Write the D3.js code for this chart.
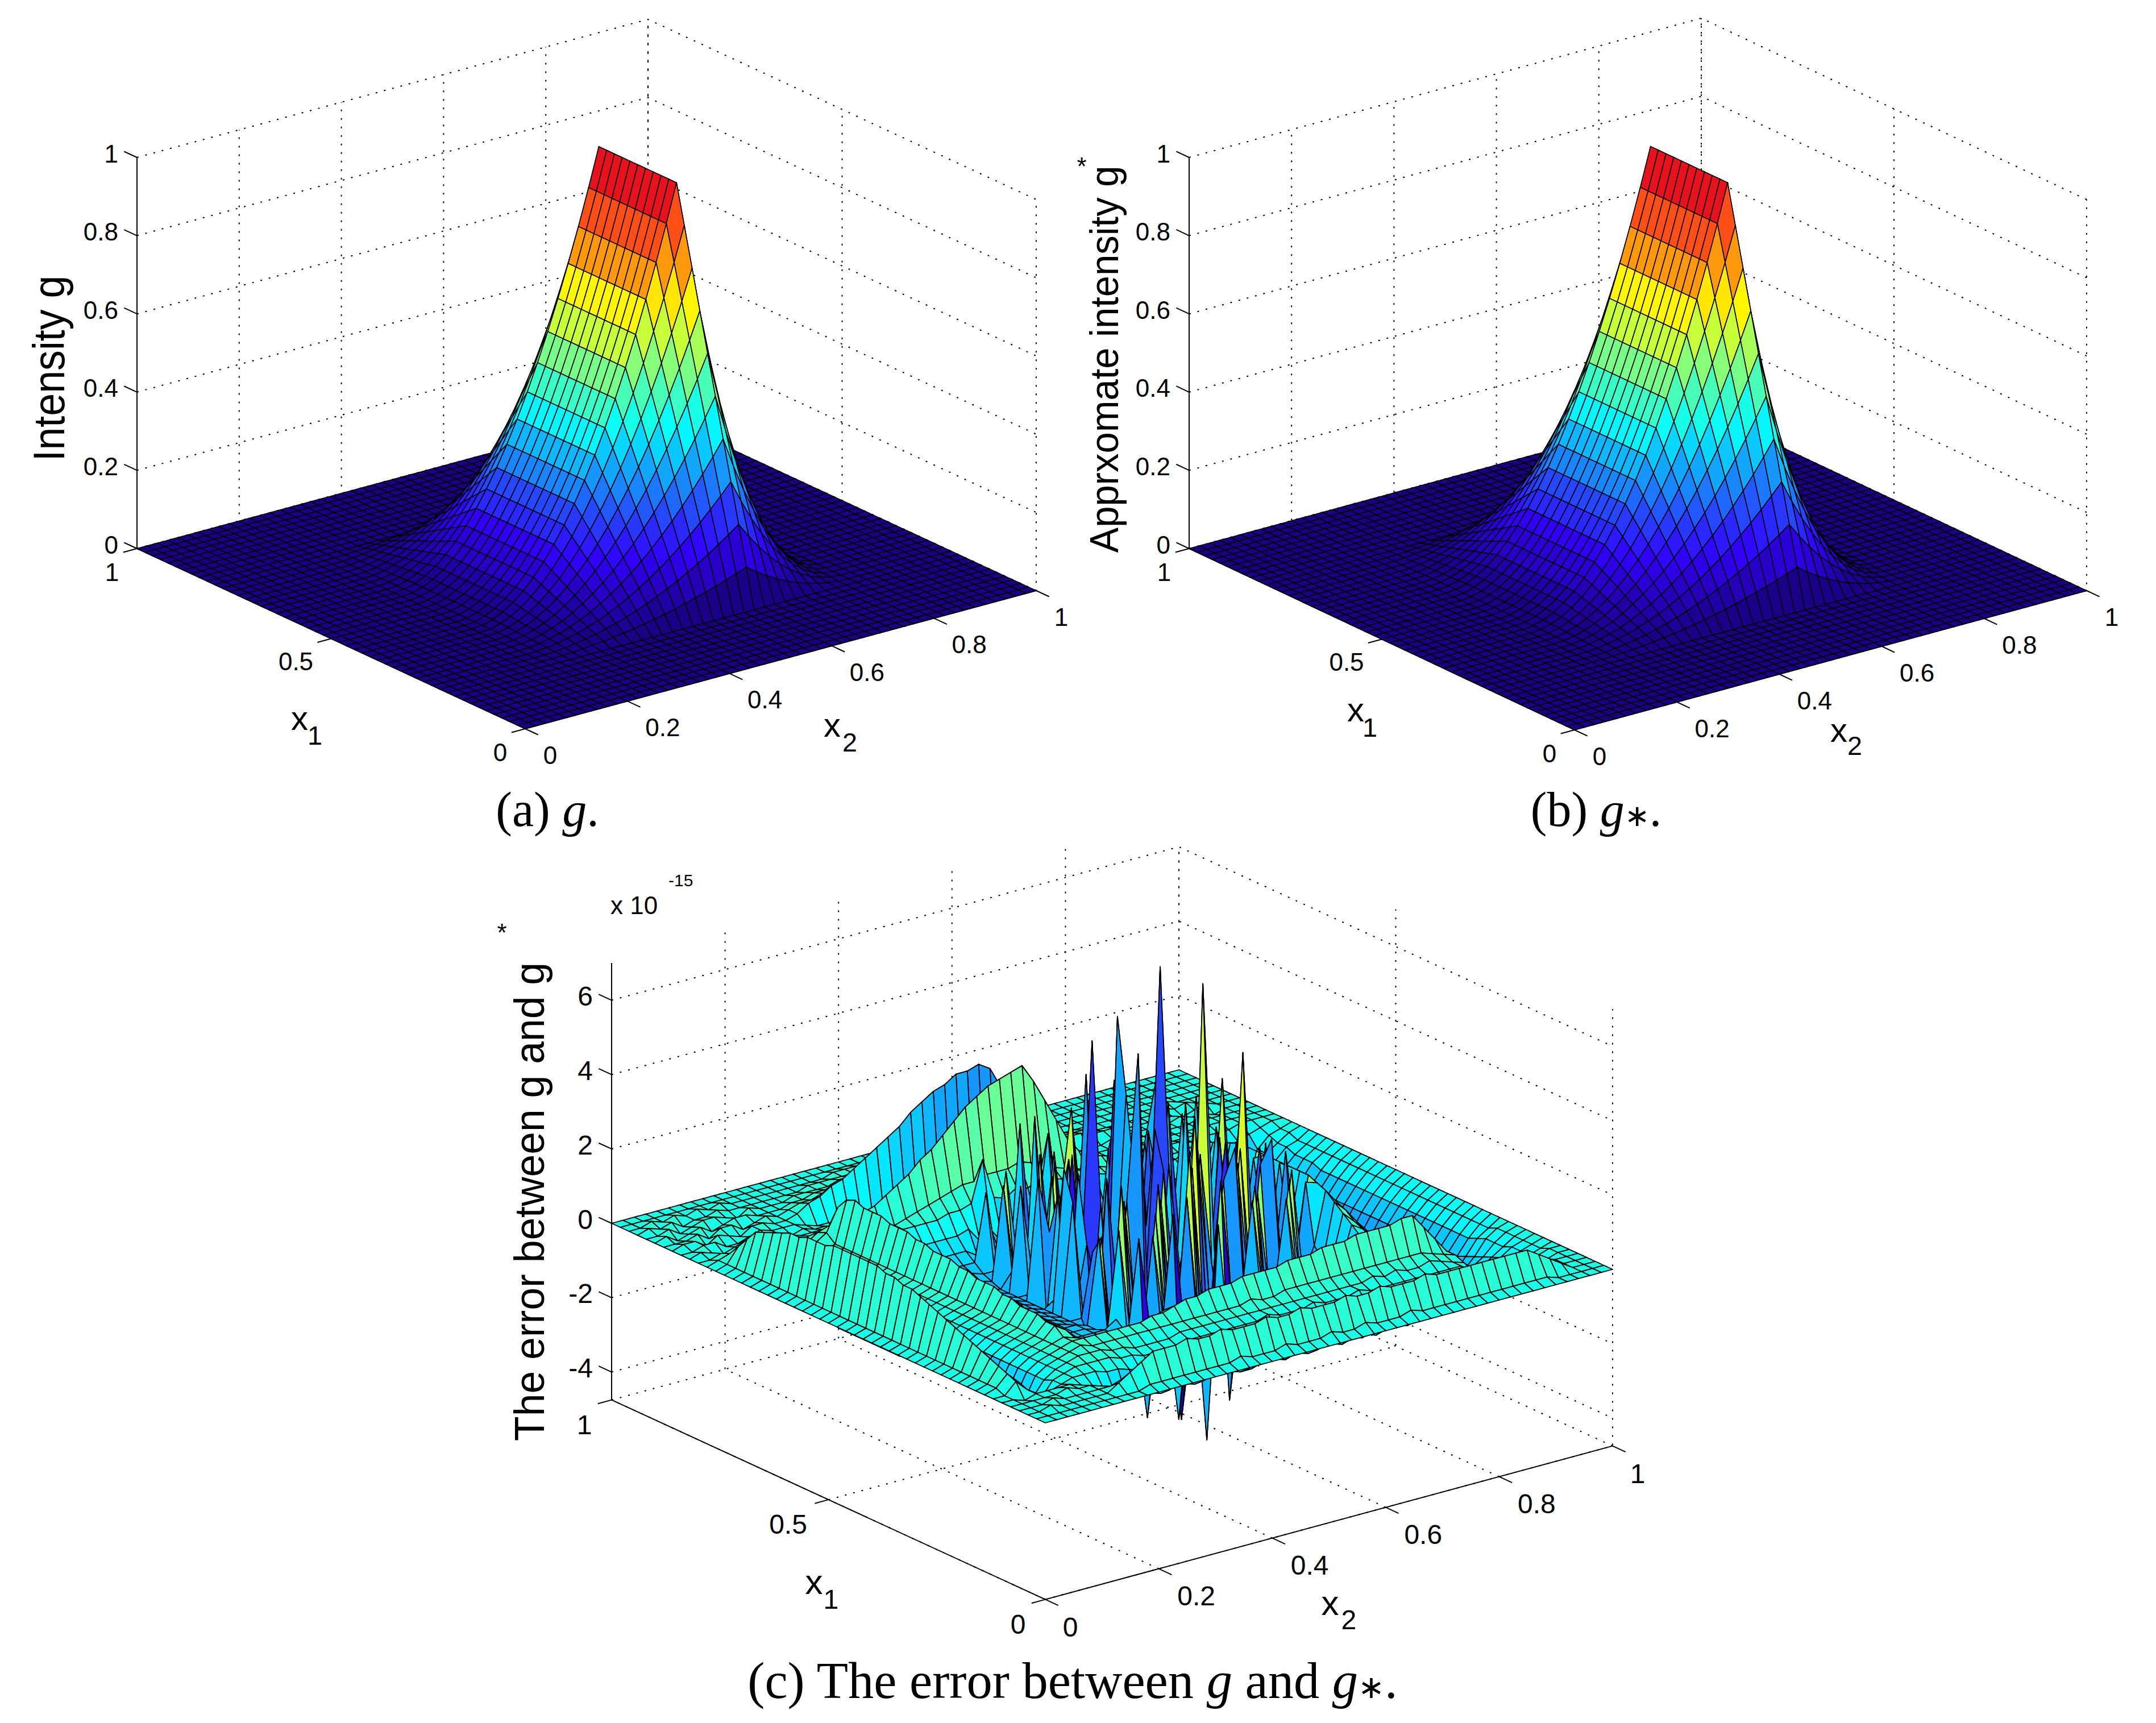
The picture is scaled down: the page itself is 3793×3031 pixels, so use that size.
<!DOCTYPE html>
<html><head><meta charset="utf-8">
<style>html,body{margin:0;background:#fff}svg{display:block}text{fill:#000}</style>
<script src="https://cdnjs.cloudflare.com/ajax/libs/d3/7.8.5/d3.min.js"></script>
</head><body><script>
// Surface g: profile read along x1 and along x2 (51 grid points, step 0.02)
const gAlongX1=[0,0,0,0,0,0,0,0,0,0,0,.1,.2,.3,.4,.5,.6,.7,.8,.9,1,1,1,1,1,1,1,1,1,1,1,.9,.8,.7,.6,.5,.4,.3,.2,.1,0,0,0,0,0,0,0,0,0,0,0];
const gAlongX2=[0,0,0,0,0,0,0,0,0,0,0,.0025,.01,.0225,.04,.0625,.09,.1225,.16,.2025,.25,.3025,.36,.4225,.49,.5625,.64,.7225,.81,.9025,1,.81,.64,.49,.36,.25,.16,.09,.04,.01,0,0,0,0,0,0,0,0,0,0,0];
// Error surface (units of 1e-16), rows x1 index, columns x2 index
const errorRows=[
[0,0,0,0,0,0,0,0,0,0, 0,0,0,0,0,0,0,0,0,0, 0,0,0,0,0,0,0,0,0,0, 0,0,0,0,0,0,0,0,0,0, 0,0,0,0,0,0,0,0,0,0,0],
[0,0,0,0,0,0,0,0,0,0, 1,1,1,1,1,1,1,1,2,1, 1,1,2,1,1,1,2,1,1,2, 1,1,1,2,1,1,1,1,1,1, 1,1,1,1,1,1,0,0,0,0,0],
[0,0,1,0,0,0,0,0,2,4, 6,8,8,8,9,8,8,9,8,8, 8,9,8,8,9,8,8,8,9,8, 8,9,8,8,8,9,8,8,8,8, 8,8,8,8,8,6,4,2,0,0,0],
[0,0,0,1,0,0,0,0,0,1, 1,1,1,1,2,1,1,1,2,1, 1,2,1,1,2,1,1,1,2,1, 1,1,2,1,1,1,1,1,1,1, 1,1,1,1,1,1,0,0,0,0,0],
[0,0,0,0,0,1,0,0,-1,-3, -5,-6,-6,-6,-7,-6,-6,-7,-6,-6, -6,-7,-6,-6,-7,-6,-6,-7,-6,-6, -6,-7,-6,-6,-6,-7,-6,-6,-6,-6, -6,-6,-6,-6,-6,-4,-3,-1,0,0,0],
[0,0,-1,0,0,0,0,-1,-2,-4, -6,-8,-8,-8,-9,-8,-8,-9,-8,-8, -8,-9,-9,-8,-8,-9,-8,-9,-8,-8, -9,-8,-8,-9,-8,-8,-8,-8,-8,-8, -8,-8,-8,-8,-8,-6,-3,-2,-1,0,0],
[0,0,3,0,-2,-2,-1,0,0,0, -1,-1,-2,-3,-3,-3,-3,-3,-3,-2, -2,-3,-2,-2,-3,-2,-2,-3,-2,-2, -2,-3,-2,-2,-2,-3,-2,-2,-2,-2, -2,-2,-3,-4,-5,-5,-4,-3,-1,0,0],
[0,1,4,1,-4,-5,-1,0,1,1, 1,1,0,0,-1,-1,-1,-1,0,0, 0,0,0,0,0,1,0,0,0,1, 0,0,0,1,0,0,0,0,0,0, 0,0,0,-2,-4,-6,-5,-3,-2,-1,0],
[0,1,5,1,-6,-6,-2,0,1,2, 2,2,1,1,0,0,0,0,1,1, 1,1,1,1,1,1,1,1,1,1, 1,1,1,1,1,2,1,2,1,1, 2,1,0,-1,-4,-6,-5,-4,-2,-1,0],
[0,1,6,1,-7,-8,-2,0,1,2, 3,2,2,2,2,2,2,2,2,2, 2,2,2,2,2,3,2,2,3,3, 3,3,3,3,3,3,3,3,3,3, 3,2,1,0,-4,-7,-6,-4,-2,-1,0],
[0,1,7,1,-7,-8,-2,0,1,2, 3,3,3,3,3,3,3,4,4,5, 6,6,7,7,7,8,8,8,8,9, 9,9,10,10,10,11,11,11,11,12, 12,8,4,0,-5,-8,-7,-5,-3,-1,0],
[0,1,8,1,-7,-8,-2,0,1,2, 3,2,1,0,0,0,1,1,2,3, 3,3,4,4,4,4,4,4,4,5, 5,5,5,5,5,5,5,6,6,6, 6,4,1,-2,-7,-10,-8,-6,-3,-1,0],
[0,1,9,1,-7,-8,-2,0,1,2, 5,3,0,-1,-2,-3,-3,-3,-2,-1, 0,0,-1,0,0,-1,0,0,-1,0, 0,0,-1,0,0,-1,0,0,0,0, 0,0,-1,-4,-9,-12,-10,-7,-3,-1,0],
[0,1,10,1,-8,-9,-2,0,1,2, 5,3,0,-2,-4,-5,-5,-5,-4,-4, -3,-4,-3,-3,-4,-3,-4,-3,-3,-4, -3,-4,-3,-3,-3,-4,-3,-3,-3,-3, 0,-1,-3,-6,-11,-14,-12,-8,-4,-2,0],
[0,1,11,1,-8,-9,-2,0,1,2, 6,3,0,-3,-6,-7,-8,-8,-7,-7, -6,-7,-6,-7,-6,-6,-7,-6,-7,-6, -6,-7,-6,-6,-7,-6,-6,-6,-6,-6, -1,-2,-4,-7,-12,-16,-13,-9,-5,-2,0],
[0,1,12,1,-8,-9,-2,0,1,2, 6,3,0,-3,-6,-8,-9,-9,-9,-8, -8,-9,-8,-9,-8,-9,-8,-8,-9,-8, -8,-8,-9,-8,-9,-8,-8,-8,-8,-7, -1,-2,-4,-8,-12,-16,-14,-9,-5,-2,0],
[0,1,13,1,-8,-10,-2,0,1,2, 6,3,0,-3,-6,-8,-10,-10,-10,-10, -10,-11,-12,-11,-36,-10,-11,-12,-10,-11, -10,-10,-10,-11,-11,-10,-10,-10,-9,-8, 0,-1,-4,-8,-13,-16,-14,-9,-5,-2,0],
[0,1,14,1,-8,-10,-2,0,1,2, 7,4,0,-3,-6,-8,-10,-10,-10,-10, -10,-12,-35,-11,-14,-38,-13,-12,-10,-14, -9,-12,-11,-13,-12,-10,-11,-10,-9,-8, 2,0,-3,-7,-13,-16,-14,-9,-5,-2,0],
[0,1,15,1,-8,-10,-2,0,1,2, 7,4,0,-3,-6,-8,-10,-10,-10,-10, -8,-14,12,-13,-15,16,-15,-9,-47,10, -38,-12,14,-13,-10,12,-12,-11,-10,-8, 4,1,-2,-7,-13,-16,-14,-9,-5,-2,0],
[0,1,15,1,-8,-10,-2,0,1,2, 8,4,0,-3,-6,-8,-10,-10,-10,-11, -12,14,-14,-18,10,-15,-17,18,-16,-18, 20,-16,-9,16,-17,-8,14,-13,-12,-9, 6,3,-1,-6,-12,-16,-14,-9,-5,-2,0],
[0,1,16,1,-8,-10,-2,0,1,2, 8,4,0,-3,-6,-8,-10,-10,-10,-11, 12,-18,24,-16,-20,14,-18,-12,28,-19, -10,18,26,-18,12,-15,-10,16,-13,-6, 8,4,0,-6,-12,-16,-14,-9,-5,-2,0],
[0,1,16,1,-8,-10,-2,0,1,2, 8,4,0,-3,-6,-8,-10,-10,-11,-12, -17,10,-22,18,-15,-24,20,-20,-10,22, -22,-12,-8,20,-15,18,24,-16,-14,10, 9,5,0,-6,-12,-16,-14,-9,-5,-2,0],
[0,1,17,1,-9,-10,-2,0,1,2, 9,5,0,-3,-6,-8,-10,-10,-11,-12, -12,5,-15,-24,16,55,-22,14,-19,-14, 34,-18,-25,-10,22,-17,-19,-12,18,-8, 10,6,0,-6,-12,-16,-14,-9,-5,-2,0],
[0,1,17,1,-9,-10,-2,0,1,2, 9,5,0,-3,-6,-8,-10,-10,-11,-12, 18,-16,-28,22,-12,-26,-8,-24,20,-15, -12,24,-16,-24,-8,46,-14,20,-14,-6, 10,6,0,-6,-12,-16,-14,-9,-5,-2,0],
[0,1,17,1,-9,-10,-2,0,1,2, 10,5,0,-3,-6,-8,-10,-10,-11,-12, 26,-12,4,-10,-17,-24,18,-21,30,-8, -20,-26,20,-10,-28,-14,22,-23,-10,12, 10,6,0,-6,-12,-16,-14,-9,-5,-2,0],
[0,1,17,1,-9,-10,-2,0,1,2, 10,5,0,-3,-6,-8,-10,-10,-11,-12, -10,-24,22,-26,12,-36,-12,16,3,-24, 18,-12,-30,64,-8,20,-14,-10,16,-8, 10,6,0,-6,-12,-16,-14,-9,-5,-2,0],
[0,1,17,1,-9,-10,-2,0,1,2, 10,5,0,-3,-6,-8,-10,-10,-11,-12, -16,16,-32,-8,55,-10,-14,38,-26,-9, 70,-24,-8,-28,18,-22,-10,24,-14,-6, 10,6,0,-6,-12,-16,-14,-9,-5,-2,0],
[0,1,17,1,-9,-10,-2,0,1,2, 11,5,0,-3,-6,-8,-10,-10,-11,-12, 20,5,-19,24,-16,-8,-30,58,-10,22, -14,-10,-26,30,-12,-22,18,-15,-12,10, 10,6,0,-6,-12,-16,-14,-9,-5,-2,0],
[0,1,16,1,-9,-10,-2,0,1,2, 11,6,0,-3,-6,-8,-10,-10,-11,-12, -12,-25,18,-21,-10,43,-12,-22,20,-12, -28,22,-9,-24,16,6,-18,32,-10,-8, 10,6,0,-6,-12,-16,-14,-9,-5,-2,0],
[0,1,16,1,-9,-10,-2,0,1,2, 12,6,0,-3,-6,-8,-10,-10,-11,-12, 16,-8,-22,20,-12,-24,22,-10,-26,24, 6,-22,-15,28,-10,-24,20,-9,-14,12, 10,6,0,-6,-12,-16,-14,-9,-5,-2,0],
[0,1,16,1,-8,-10,-2,0,1,2, 12,6,0,-3,-6,-8,-10,-10,-11,-12, -8,-22,32,-10,-24,18,-12,-14,-22,36, -9,-24,20,4,-12,22,-10,-15,16,-8, 10,6,0,-6,-12,-16,-14,-9,-5,-2,0],
[0,1,15,1,-8,-10,-2,0,1,2, 12,6,0,-3,-6,-8,-10,-10,-10,-11, 14,-12,-20,16,-22,5,30,-12,18,-10, -24,16,-12,-22,18,-14,-9,24,-12,-6, 9,5,0,-6,-12,-15,-13,-9,-5,-2,0],
[0,1,15,1,-8,-9,-2,0,1,2, 13,6,0,-3,-6,-7,-9,-9,-9,-10, -10,16,-8,-21,18,-12,-16,20,-12,-16, 14,26,-10,-14,-12,18,-13,-8,14,-6, 8,5,0,-6,-11,-15,-13,-8,-4,-2,0],
[0,1,14,1,-7,-9,-2,0,1,2, 13,7,1,-2,-5,-6,-8,-8,-8,-8, 10,-10,-16,26,-9,-12,16,-10,-11,4, -13,14,-8,-16,12,28,-10,-12,-8,-4, 7,4,0,-5,-10,-14,-12,-8,-4,-2,0],
[0,1,13,1,-7,-8,-2,0,1,2, 13,7,1,-1,-4,-5,-6,-6,-6,-6, -8,-12,-9,-14,-10,-13,-8,-15,-10,-12, 20,-14,-9,-13,-10,-12,-8,-11,-9,-4, 6,3,0,-5,-9,-13,-11,-7,-4,-2,0],
[0,1,12,1,-6,-7,-2,0,1,2, 14,7,2,0,-2,-3,-3,-3,-3,-3, -2,-6,-4,-8,-6,-9,-5,18,-7,-9, -5,-8,-6,-9,-4,-7,-6,-5,-4,-2, 4,2,0,-4,-8,-11,-9,-6,-3,-2,0],
[0,1,11,1,-5,-6,-2,0,1,2, 13,7,3,1,0,1,1,1,1,2, 2,3,14,3,2,4,3,5,4,3, 2,3,2,1,1,0,0,0,0,0, 2,1,0,-3,-7,-10,-8,-5,-3,-1,0],
[0,1,8,1,-5,-6,-1,1,2,4, 10,6,2,1,0,1,2,3,4,5, 6,7,7,8,8,8,9,8,7,5, 4,3,2,2,1,1,1,1,0,0, 0,0,0,-3,-7,-9,-8,-5,-2,-1,0],
[0,1,5,1,-2,-3,-1,0,1,3, 4,7,6,5,6,8,10,12,15,17, 20,23,26,28,30,31,32,33,28,22, 16,10,6,4,3,2,2,1,1,1, 1,1,0,-1,-3,-4,-3,-2,-1,0,0],
[0,1,2,0,-1,-2,-1,0,0,1, 1,2,1,1,0,0,0,1,1,2, 2,3,3,4,4,5,5,5,4,3, 2,2,1,1,1,1,0,0,0,0, 1,0,0,0,-1,-1,-1,0,0,0,0],
[0,0,1,0,0,-1,0,0,1,0, 0,0,-1,-1,-1,-2,-2,-2,-3,-3, -3,-4,-4,-5,-5,-5,-5,-5,-5,-5, -4,-3,-2,-2,-1,-1,-1,0,0,0, 0,0,0,0,0,0,0,0,0,0,0],
[0,1,0,-1,0,1,1,0,0,-1, 0,-1,-1,-2,-2,-3,-4,-5,-5,-6, -7,-8,-9,-10,-11,-11,-12,-12,-12,-11, -8,-5,-3,-2,-2,-1,-1,-1,0,0, 0,0,0,0,0,1,0,0,0,0,0],
[0,0,1,1,-1,-1,0,1,0,0, 0,-1,-2,-2,-3,-4,-5,-6,-7,-8, -9,-10,-12,-13,-14,-14,-15,-15,-15,-14, -9,-6,-4,-3,-2,-1,-1,-1,0,0, 0,0,0,0,1,0,0,-1,0,0,0],
[0,1,1,-1,1,0,-1,1,1,0, 0,1,3,4,6,7,9,11,13,15, 17,20,22,24,25,27,27,28,26,20, 14,9,6,4,3,2,2,1,1,1, 0,0,0,0,0,-1,0,1,0,0,0],
[0,0,0,1,-1,1,1,-1,0,1, 0,1,2,2,3,4,5,6,7,8, 9,11,12,13,14,14,15,15,14,11, 8,5,3,2,2,1,1,1,0,0, 0,0,0,0,1,0,1,0,0,0,0],
[0,1,-1,0,1,-1,0,1,1,0, 0,0,1,1,2,2,3,3,4,4, 5,6,6,7,7,8,8,8,7,6, 4,3,2,1,1,1,0,0,0,0, 0,0,0,0,0,1,0,0,0,0,0],
[0,0,1,-1,0,1,1,0,-1,1, 0,0,0,1,1,1,1,2,2,2, 2,3,3,3,4,4,4,4,3,3, 2,2,1,1,1,0,0,0,0,0, 0,0,0,0,0,0,0,0,0,0,0],
[0,1,0,1,-1,0,0,1,0,0, 0,0,0,0,0,1,1,1,1,1, 1,1,2,2,2,2,2,2,2,1, 1,1,1,1,0,0,0,0,0,0, 0,0,0,0,0,0,0,0,0,0,0],
[0,0,1,0,1,0,1,0,1,0, 0,0,0,0,0,0,0,0,1,1, 1,1,1,1,1,1,1,1,1,1, 1,1,0,0,0,0,0,0,0,0, 0,0,0,0,0,0,0,0,0,0,0],
[0,0,0,0,0,0,0,0,0,0, 0,0,0,0,0,0,0,0,0,0, 0,0,0,0,0,0,0,0,0,0, 0,0,0,0,0,0,0,0,0,0, 0,0,0,0,0,0,0,0,0,0,0],
[0,0,0,0,0,0,0,0,0,0, 0,0,0,0,0,0,0,0,0,0, 0,0,0,0,0,0,0,0,0,0, 0,0,0,0,0,0,0,0,0,0, 0,0,0,0,0,0,0,0,0,0,0]];
const x1Ticks=[0,0.5,1], x2Ticks=[0,0.2,0.4,0.6,0.8,1];
const zTicksIntensity=[0,0.2,0.4,0.6,0.8,1], zTicksError=[-4,-2,0,2,4,6];
const captions=[["(a) ","g","."],["(b) ","g","∗","."],["(c) The error between ","g"," and ","g","∗","."]];

const W=3793,H=3031;
const svg=d3.select("body").append("svg").attr("width",W).attr("height",H).attr("viewBox",`0 0 ${W} ${H}`);
const SANS="'Liberation Sans',Arial,sans-serif", SERIF="'Liberation Serif',serif";
const gSurface=gAlongX1.map(a=>gAlongX2.map(b=>a*b));
const eSurface=errorRows.map(r=>r.map(v=>v/10));

function jet(t){
  t=(Math.min(63,Math.floor(t*64))+.5)/64;
  const f=v=>Math.max(0,Math.min(1,v));
  let r=f(1.5-Math.abs(4*t-3)),g=f(1.5-Math.abs(4*t-2)),b=f(1.5-Math.abs(4*t-1));
  const r0=r,g0=g,b0=b;
  r=f(r0+.2*b0*(1-g0)); g=f(g0+.08*r0*Math.pow(1-g0,3)); b=f(b0+.12*r0*(1-g0));
  return d3.rgb(r*255,g*255,b*255).formatHex();
}
svg.append("clipPath").attr("id","gridClipC").append("rect").attr("x",0).attr("y",1488).attr("width",W).attr("height",H-1488);
function panel(o){
  const g=svg.append("g");
  const dx1=d3.scaleLinear([0,1],[0,o.L[0]-o.F[0]]), dy1=d3.scaleLinear([0,1],[0,o.L[1]-o.F[1]]);
  const dx2=d3.scaleLinear([0,1],[0,o.R[0]-o.F[0]]), dy2=d3.scaleLinear([0,1],[0,o.R[1]-o.F[1]]);
  const zy=d3.scaleLinear([0,1],[0,-o.zUnit]);
  const P=(a,b,z)=>[o.F[0]+dx1(a)+dx2(b), o.F[1]+dy1(a)+dy2(b)+zy(z)];
  const line=d3.line();
  const zmin=o.zDomain[0],zmax=o.zDomain[1];
  const dotted=g.append("g").attr("fill","none").attr("stroke","#000").attr("stroke-width",2).attr("stroke-dasharray","3 12");
  if(o.gridClip) dotted.attr("clip-path",`url(#${o.gridClip})`);
  const poly=pts=>dotted.append("path").attr("d",line(pts));
  x2Ticks.forEach(b=>{poly([P(0,b,zmin),P(1,b,zmin),P(1,b,zmax)]);});
  x1Ticks.forEach(a=>{poly([P(a,0,zmin),P(a,1,zmin),P(a,1,zmax)]);});
  o.zTicks.forEach(z=>{poly([P(1,0,z),P(1,1,z),P(0,1,z)]);});
  const ax=g.append("g").attr("fill","none").attr("stroke","#000").attr("stroke-width",2);
  ax.append("path").attr("d",line([P(1,0,zmax),P(1,0,zmin),P(0,0,zmin),P(0,1,zmin)]));
  const len=(v)=>{const n=Math.hypot(v[0],v[1]);return [v[0]/n*25,v[1]/n*25];};
  const t1=len([o.F[0]-o.R[0],o.F[1]-o.R[1]]), t2=len([o.F[0]-o.L[0],o.F[1]-o.L[1]]), tz=len([o.L[0]-o.F[0],o.L[1]-o.F[1]]);
  const tick=(p,d)=>ax.append("path").attr("d",line([p,[p[0]+d[0],p[1]+d[1]]]));
  const label=(txt,x,y,size,anchor)=>g.append("text").attr("x",x).attr("y",y).attr("font-family",SANS).attr("font-size",size).attr("text-anchor",anchor||"middle").attr("dominant-baseline","central").text(txt);
  x1Ticks.forEach(a=>{const p=P(a,0,zmin);tick(p,t1);const q=Number.isInteger(a)?o.lab.x1i:o.lab.x1d;label(String(a),p[0]+q[0],p[1]+q[1],o.tickSize);});
  x2Ticks.forEach(b=>{const p=P(0,b,zmin);tick(p,t2);const q=Number.isInteger(b)?o.lab.x2i:o.lab.x2d;label(String(b),p[0]+q[0],p[1]+q[1],o.tickSize);});
  o.zTicks.forEach(z=>{const p=P(1,0,z);tick(p,tz);label(String(z),p[0]-33,p[1]-7,o.tickSize,"end");});
  const cm=d3.scaleLinear([zmin,zmax],[0,1]).clamp(true);
  const gx1=d3.scaleLinear([0,50],[0,1]), gx2=d3.scaleLinear([0,50],[0,1]);
  const s=g.append("g").attr("stroke","#000").attr("stroke-width",o.sw).attr("stroke-linejoin","round");
  const cells=[];
  for(let i=49;i>=0;i--)for(let j=49;j>=0;j--)cells.push([i,j]);
  s.selectAll("path").data(cells).join("path")
   .attr("fill",([i,j])=>jet(cm(o.Z[i][j])))
   .attr("d",([i,j])=>line([P(gx1(i),gx2(j),o.Z[i][j]),P(gx1(i+1),gx2(j),o.Z[i+1][j]),P(gx1(i+1),gx2(j+1),o.Z[i+1][j+1]),P(gx1(i),gx2(j+1),o.Z[i][j+1])])+"Z");
  g.append("text").attr("transform",`translate(${o.zl[0]},${o.zl[1]}) rotate(-90)`).attr("text-anchor","middle").attr("dominant-baseline","central")
   .attr("font-family",SANS).attr("font-size",o.zl[3]).attr("textLength",o.zl[2]).attr("lengthAdjust","spacingAndGlyphs").text(o.zText);
  if(o.star) label("*",o.star[0],o.star[1],44);
  label("x",o.xl1[0],o.xl1[1],o.xlSize); label("1",o.xl1[2],o.xl1[3],o.xlSize*.78);
  label("x",o.xl2[0],o.xl2[1],o.xlSize); label("2",o.xl2[2],o.xl2[3],o.xlSize*.78);
  const c=g.append("text").attr("x",o.cap[0]).attr("y",o.cap[1]).attr("text-anchor","middle").attr("font-family",SERIF).attr("font-size",o.cap[2]);
  captions[o.capIndex].forEach(t=>{const ts=c.append("tspan").attr("font-style",t==="g"?"italic":"normal").text(t); if(t==="∗") ts.attr("font-size",o.cap[2]*.62);});
  return {label};
}
const labAB={x1i:[-44,41],x1d:[-62,40],x2i:[44,46],x2d:[62,46]};
panel({F:[924,1282],L:[241,965],R:[1823,1039],zUnit:688,zDomain:[0,1],zTicks:zTicksIntensity,Z:gSurface,sw:1.6,tickSize:44,lab:labAB,
  zText:"Intensity g",zl:[86,648,327,78],xl1:[527,1263,554,1294],xl2:[1464,1275,1495,1306],xlSize:60,cap:[963,1453,86],capIndex:0});
panel({F:[2770,1284],L:[2092,965],R:[3671,1039],zUnit:688,zDomain:[0,1],zTicks:zTicksIntensity,Z:gSurface,sw:1.6,tickSize:44,lab:labAB,
  zText:"Apprxomate intensity g",zl:[1943,632,681,70],star:[1903,292],xl1:[2385,1248,2410,1280],xl2:[3235,1284,3263,1312],xlSize:60,cap:[2808,1453,86],capIndex:1});
const pc=panel({F:[1839,2503],L:[1076,2152],R:[2837,2233],zUnit:65.4,zDomain:[-4.75,7],zTicks:zTicksError,Z:eSurface,sw:1.8,tickSize:48,gridClip:"gridClipC",
  lab:{x1i:[-48,44],x1d:[-71,43],x2i:[44,49],x2d:[66,48]},
  zText:"The error between g and g",zl:[931,2114,842,74],star:[883,1640],xl1:[1432,2782,1462,2813],xl2:[2340,2819,2373,2849],xlSize:62,cap:[1887,2987,90.5],capIndex:2});
pc.label("x 10",1074,1592,44,"start"); pc.label("-15",1176,1548,30,"start");
</script></body></html>
